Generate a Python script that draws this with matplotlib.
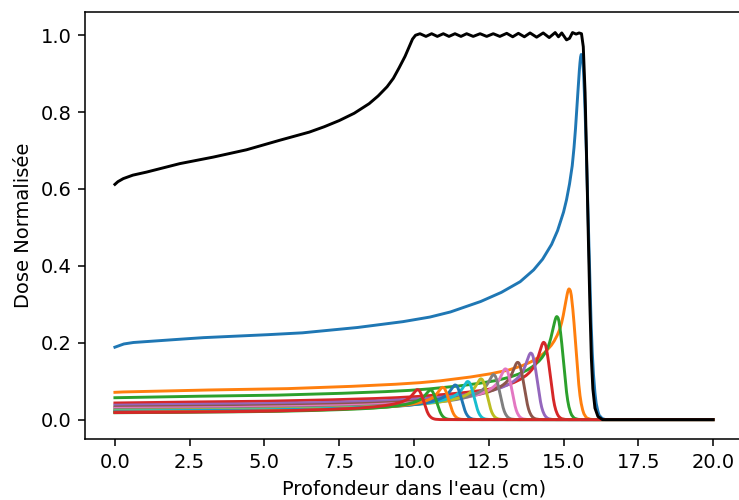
import numpy as np
import matplotlib.pyplot as plt

base_offset = [-15.6, -15.3, -15.0, -14.1, -12.75, -11.1, -9.4, -7.6, -6.05, -5.1,
               -4.4, -3.4, -2.7, -2.05, -1.6, -1.3, -1.0, -0.8, -0.6, -0.5,
               -0.4, -0.3, -0.25, -0.2, -0.15, -0.1, -0.05, -0.02, 0.0, 0.02,
               0.05, 0.08, 0.12, 0.16, 0.20, 0.24, 0.28, 0.32, 0.36, 0.40,
               0.45, 0.50, 0.55, 0.6, 0.7, 0.8, 10.0]
base_rel = [0.198, 0.207, 0.211, 0.216, 0.224, 0.230, 0.237, 0.251, 0.267, 0.280,
            0.294, 0.322, 0.347, 0.377, 0.409, 0.438, 0.478, 0.515, 0.565, 0.598,
            0.640, 0.695, 0.735, 0.785, 0.845, 0.91, 0.97, 0.993, 1.0, 0.998,
            0.985, 0.95, 0.87, 0.77, 0.65, 0.52, 0.40, 0.29, 0.20, 0.135,
            0.08, 0.045, 0.025, 0.012, 0.003, 0.0, 0.0]

# position (cm) et hauteur des pics de Bragg individuels
peak_depth = [15.59, 15.18, 14.77, 14.33, 13.90, 13.46, 13.05,
              12.65, 12.23, 11.79, 11.37, 10.95, 10.54, 10.11]
peak_dose = [0.950, 0.340, 0.268, 0.201, 0.173, 0.149, 0.132,
             0.117, 0.106, 0.099, 0.090, 0.084, 0.077, 0.078]

# pic de Bragg étalé (courbe noire)
sobp_depth = [0.0, 0.1, 0.28, 0.6, 1.06, 2.17, 3.29, 4.4, 5.52, 6.5,
              7.0, 7.5, 8.0, 8.5, 8.8, 9.1, 9.31, 9.5, 9.7, 9.85,
              9.95, 10.05, 10.2, 10.4,
              10.59, 10.78, 10.98, 11.17, 11.37, 11.57, 11.76, 11.98, 12.21, 12.43,
              12.65, 12.87, 13.1, 13.3, 13.49, 13.69, 13.88, 14.1, 14.32, 14.52,
              14.72, 14.83, 14.94, 15.1, 15.2, 15.3, 15.42, 15.52, 15.6, 15.66,
              15.72, 15.78, 15.83, 15.88, 15.93, 15.98, 16.05, 16.15, 16.3, 20.0]
sobp_dose = [0.612, 0.619, 0.627, 0.636, 0.644, 0.666, 0.683, 0.702, 0.727, 0.748,
             0.762, 0.778, 0.797, 0.822, 0.842, 0.866, 0.888, 0.915, 0.945, 0.972,
             0.99, 1.0, 1.004, 0.997,
             1.004, 0.997, 1.004, 0.997, 1.004, 0.997, 1.004, 0.997, 1.004, 0.997,
             1.004, 0.997, 1.005, 0.996, 1.005, 0.996, 1.006, 0.995, 1.006, 0.994,
             1.007, 0.996, 1.006, 0.988, 0.992, 1.007, 1.003, 1.006, 1.004, 0.97,
             0.85, 0.65, 0.47, 0.30, 0.16, 0.08, 0.03, 0.008, 0.0, 0.0]

depth = np.linspace(0, 20, 2001)

fig = plt.figure(figsize=(739/140, 500/140), dpi=140)
ax = fig.add_axes([85/739, 61/500, 658/739, 427/500])

for p, h in zip(peak_depth, peak_dose):
    ax.plot(depth, h * np.interp(depth - p, base_offset, base_rel))

ax.plot(sobp_depth, sobp_dose, 'k')

ax.set_xlim(-1, 21)
ax.set_ylim(-0.0505, 1.0605)
ax.set_xlabel("Profondeur dans l'eau (cm)")
ax.set_ylabel("Dose Normalisée")

fig.savefig('out.png', dpi=140)
